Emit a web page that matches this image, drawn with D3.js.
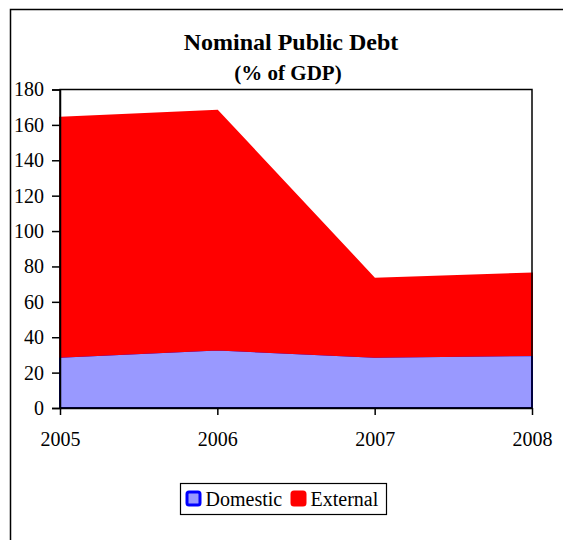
<!DOCTYPE html>
<html>
<head>
<meta charset="utf-8">
<script src="https://cdn.jsdelivr.net/npm/d3@7"></script>
<style>
  body { margin: 0; background: #fff; }
  svg text { font-family: "Liberation Serif", "DejaVu Serif", serif !important; fill: #000; }
</style>
</head>
<body>
<div id="chart"></div>
<script>
// chart data
const years = ['2005', '2006', '2007', '2008'];
const domestic = [29, 33, 29, 30];
const external = [135, 135, 44, 46];
const yTicks = [0, 20, 40, 60, 80, 100, 120, 140, 160, 180];
const seriesNames = ['Domestic', 'External'];

const width = 563, height = 540;
const margin = {top: 89.5, right: 31, bottom: 132, left: 60};
const innerW = width - margin.left - margin.right;
const innerH = height - margin.top - margin.bottom;
const serif = '"Liberation Serif", "DejaVu Serif", serif';

const svg = d3.select('#chart').append('svg')
  .attr('width', width)
  .attr('height', height);

// outer frame (top and left edges visible)
svg.append('path')
  .attr('d', `M10.5,${height + 5} V9.5 H${width + 5}`)
  .attr('fill', 'none')
  .attr('stroke', '#000')
  .attr('stroke-width', 1.5);

// titles
svg.append('text')
  .attr('x', 291).attr('y', 50)
  .attr('text-anchor', 'middle')
  .style('font-family', serif)
  .attr('font-size', 24).attr('font-weight', 'bold')
  .text('Nominal Public Debt');
svg.append('text')
  .attr('x', 288).attr('y', 80)
  .attr('text-anchor', 'middle')
  .style('font-family', serif)
  .attr('font-size', 21).attr('font-weight', 'bold')
  .text('(% of GDP)');

const g = svg.append('g')
  .attr('transform', `translate(${margin.left},${margin.top})`);

const xScale = d3.scalePoint().domain(years).range([0, innerW]);
const yScale = d3.scaleLinear().domain([0, 180]).range([innerH, 0]);

// stack the two series
const table = years.map((y, i) => ({year: y, Domestic: domestic[i], External: external[i]}));
const stacked = d3.stack().keys(seriesNames)(table);

const area = d3.area()
  .x(d => xScale(d.data.year))
  .y0(d => yScale(d[0]))
  .y1(d => yScale(d[1]));

const fills = {Domestic: '#9999ff', External: '#ff0000'};
const strokes = {Domestic: '#0000ff', External: '#ff0000'};

g.selectAll('.area')
  .data(stacked)
  .join('path')
  .attr('class', 'area')
  .attr('d', area)
  .attr('fill', d => fills[d.key])
  .attr('stroke', d => strokes[d.key])
  .attr('stroke-width', 2);

// plot frame
g.append('rect')
  .attr('width', innerW).attr('height', innerH)
  .attr('fill', 'none')
  .attr('stroke', '#000')
  .attr('stroke-width', 1.5);

// y axis
const yAxis = d3.axisLeft(yScale).tickValues(yTicks).tickSize(8).tickPadding(8);
g.append('g')
  .call(yAxis)
  .call(a => a.selectAll('text').attr('font-size', 20).style('font-family', serif))
  .call(a => a.selectAll('line,path').attr('stroke', '#000').attr('stroke-width', 1.5));

// x axis
const xAxis = d3.axisBottom(xScale).tickSize(7).tickPadding(17).tickSizeOuter(0);
g.append('g')
  .attr('transform', `translate(0,${innerH})`)
  .call(xAxis)
  .call(a => a.selectAll('text').attr('font-size', 20).style('font-family', serif))
  .call(a => a.selectAll('line,path').attr('stroke', '#000').attr('stroke-width', 1.5));

// legend
const legend = svg.append('g').attr('transform', 'translate(180.5,483.5)');
legend.append('rect')
  .attr('width', 206).attr('height', 31)
  .attr('fill', '#fff')
  .attr('stroke', '#000').attr('stroke-width', 1.2);

const itemX = [5, 110];
seriesNames.forEach((name, i) => {
  legend.append('rect')
    .attr('x', itemX[i] + 1.5).attr('y', 8.5)
    .attr('width', 13).attr('height', 13)
    .attr('rx', 2)
    .attr('fill', fills[name])
    .attr('stroke', strokes[name])
    .attr('stroke-width', 3);
  legend.append('text')
    .attr('x', itemX[i] + 20).attr('y', 22.5)
    .attr('font-size', 20)
    .style('font-family', serif)
    .text(name);
});
</script>
</body>
</html>
